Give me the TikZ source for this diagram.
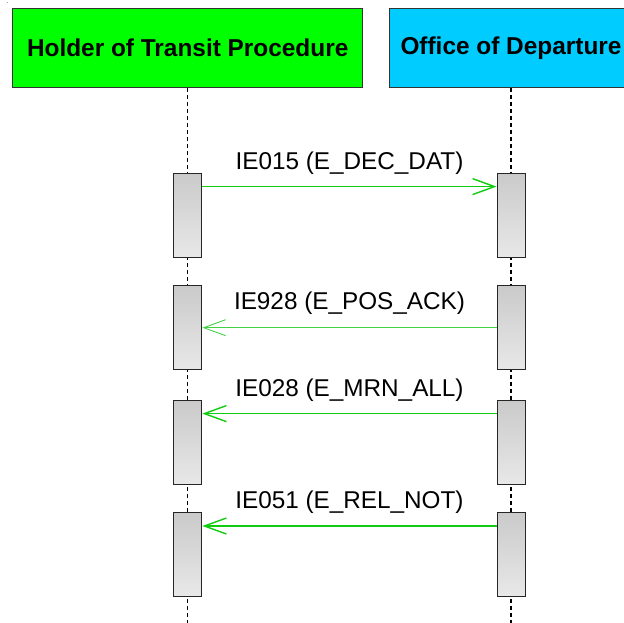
\documentclass[tikz,border=0pt]{standalone}
\usepackage{fontspec}
\setmainfont{Liberation Sans}
\usetikzlibrary{arrows.meta}
\definecolor{hgreen}{HTML}{00FF00}
\definecolor{hblue}{HTML}{00CCFF}
\definecolor{msggreen}{HTML}{11CC11}
\definecolor{msglight}{HTML}{44D044}
\definecolor{actdark}{HTML}{CACACA}
\definecolor{actlight}{HTML}{E8E8E8}
\begin{document}
\begin{tikzpicture}[x=1pt,y=-1pt,
  header/.style={draw=black!80, line width=1pt, minimum height=79.7pt, inner sep=0pt,
    font=\fontsize{24.4}{28}\selectfont\bfseries},
  actbox/.style={draw=black!85, line width=1.4pt, minimum width=28pt, minimum height=84pt,
    inner sep=0pt, top color=actdark, bottom color=actlight},
  lifeline/.style={draw=black, dash pattern=on 4pt off 3pt, line width=1.2pt},
  msg/.style={draw=msggreen, line width=1.4pt, -{Straight Barb[length=22pt,width=16pt]}},
  msgthin/.style={draw=msglight, line width=0.9pt, -{Straight Barb[length=22pt,width=16pt]}},
  lbl/.style={anchor=base, inner sep=0pt, font=\fontsize{24.3}{28}\selectfont}
]
\useasboundingbox (0,0) rectangle (624,622);
\clip (0,0) rectangle (624,622);
\fill[black!35] (7.3,2.3) rectangle (8.3,3.3);
% headers
\node[header, fill=hgreen, minimum width=349.7pt] (h1) at (187.7,47.85) {Holder of Transit Procedure};
\node[header, fill=hblue, minimum width=243.4pt] (h2) at (511,47.85) {Office of Departure};
\coordinate (bot) at (0,630);
% lifelines
\draw[lifeline] (h1.south) -- (h1.south |- bot);
\draw[lifeline] (h2.south) -- (h2.south |- bot);
% activations
\node[actbox] (a1) at (187.65,215.3) {};
\node[actbox] (b1) at (511.3,215.3) {};
\node[actbox] (a2) at (187.65,327.7) {};
\node[actbox] (b2) at (511.3,327.7) {};
\node[actbox] (a3) at (187.65,442.7) {};
\node[actbox] (b3) at (511.3,442.7) {};
\node[actbox] (a4) at (187.65,554.3) {};
\node[actbox] (b4) at (511.3,554.3) {};
% messages
\draw[msg] ([yshift=-14pt]a1.north east) -- ([yshift=-14pt]b1.north west);
\draw[msgthin] (b2.west) -- (a2.east);
\draw[msg] ([yshift=-13.6pt]b3.north west) -- ([yshift=-13.6pt]a3.north east);
\draw[msg] ([yshift=-14.4pt]b4.north west) -- ([yshift=-14.4pt]a4.north east);
% labels
\node[lbl] (l1) at (349.5,169.3) {IE015 (E\_DEC\_DAT)};
\node[lbl] (l2) at (349.5,309.3) {IE928 (E\_POS\_ACK)};
\node[lbl] (l3) at (349.5,396.8) {IE028 (E\_MRN\_ALL)};
\node[lbl] (l4) at (349.5,508.7) {IE051 (E\_REL\_NOT)};
\end{tikzpicture}
\end{document}
